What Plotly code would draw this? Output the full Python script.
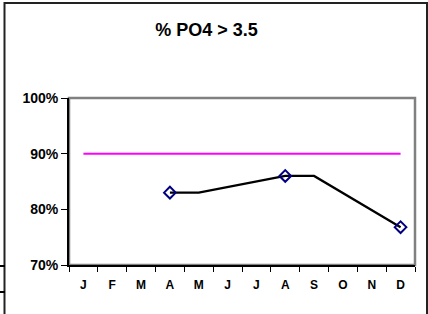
import plotly.graph_objects as go

months = ["J", "F", "M", "A", "M", "J", "J", "A", "S", "O", "N", "D"]
target_pct = [90, 90, 90, 90, 90, 90, 90, 90, 90, 90, 90, 90]
po4_line = [None, None, None, 83, 83, None, None, 86, 86, None, None, 76.8]
po4_markers = [None, None, None, 83, None, None, None, 86, None, None, None, 76.8]
y_ticks = [70, 80, 90, 100]
y_labels = ["70%", "80%", "90%", "100%"]

W, H = 428, 314
L, R, T, B = 69, 13, 98, 49
pw, ph = W - L - R, H - T - B

def px(x):
    return (x - L) / pw

def py(y):
    return 1 - (y - T) / ph

xs = list(range(len(months)))
font = "Liberation Sans, Arial, sans-serif"

fig = go.Figure()
fig.add_trace(go.Scatter(x=xs, y=target_pct, mode="lines",
                         line=dict(color="#FF00FF", width=2), hoverinfo="skip"))
fig.add_trace(go.Scatter(x=xs, y=po4_line, mode="lines", connectgaps=True,
                         line=dict(color="#000000", width=2.3)))
fig.add_trace(go.Scatter(x=xs, y=po4_markers, mode="markers",
                         marker=dict(symbol="diamond-open", size=9, color="#000080",
                                     line=dict(color="#000080", width=2))))

fig.update_layout(
    width=W, height=H, showlegend=False,
    margin=dict(l=L, r=R, t=T, b=B),
    paper_bgcolor="white", plot_bgcolor="white",
    title=dict(text="% PO4 > 3.5", x=px(206.5), xref="paper", xanchor="center",
               y=1 - 30 / H, yref="container", yanchor="middle",
               font=dict(family=font, size=18, color="black", weight="bold")),
    xaxis=dict(range=[-0.5, 11.5], tickvals=xs, ticktext=months, ticks="",
               showgrid=False, zeroline=False, showline=True, linecolor="black",
               linewidth=2, ticklabelstandoff=8,
               tickfont=dict(family=font, size=12, color="black", weight="bold"),
               minor=dict(tickvals=[i - 0.5 for i in range(13)], ticks="outside",
                          ticklen=5, tickwidth=1, tickcolor="black", showgrid=False)),
    yaxis=dict(range=[70, 100], tickvals=y_ticks, ticktext=y_labels, ticks="outside",
               ticklen=6, tickwidth=1, tickcolor="black", showgrid=False,
               zeroline=False, showline=True, linecolor="black", linewidth=2,
               tickfont=dict(family=font, size=14, color="black", weight="bold")),
    shapes=[
        dict(type="rect", xref="paper", yref="paper", x0=0, x1=1, y0=0, y1=1,
             line=dict(color="#808080", width=2.5), layer="below"),
        dict(type="rect", xref="paper", yref="paper", x0=px(4.5), x1=px(427),
             y0=py(330), y1=py(3), line=dict(color="#222222", width=2), layer="above"),
        dict(type="line", xref="paper", yref="paper", x0=px(0), x1=px(5),
             y0=py(266), y1=py(266), line=dict(color="black", width=2)),
        dict(type="line", xref="paper", yref="paper", x0=px(0), x1=px(5),
             y0=py(292), y1=py(292), line=dict(color="black", width=2)),
    ],
)

fig.write_html("out.html", config={"displayModeBar": False},
               post_script="document.body.style.margin='0';document.body.style.overflow='hidden';")
